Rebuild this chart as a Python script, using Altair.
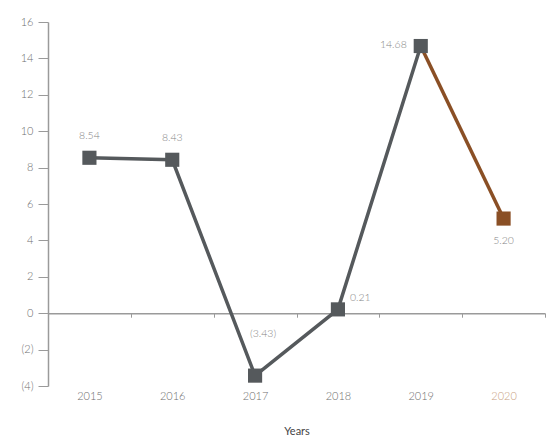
import altair as alt
import pandas as pd

# Annual growth figures (%) by year
years = ["2015", "2016", "2017", "2018", "2019", "2020"]
values = [8.54, 8.43, -3.43, 0.21, 14.68, 5.20]
labels = ["8.54", "8.43", "(3.43)", "0.21", "14.68", "5.20"]

GREY = "#55595c"
BROWN = "#8a4f25"
TEXT = "#858585"

Y_MIN, Y_MAX = -4, 16
W, H = 497, 364

df = pd.DataFrame({"year": years, "value": values, "label": labels})
df["status"] = ["actual"] * 5 + ["latest"]

# Line segments: actual years in grey, last step in brown
seg = pd.concat([
    df.iloc[0:5].assign(segment="actual"),
    df.iloc[4:6].assign(segment="latest"),
])

x_scale = alt.Scale(type="band", paddingInner=0, paddingOuter=0, domain=years)
y_scale = alt.Scale(domain=[Y_MIN, Y_MAX], nice=False, zero=False)
color_scale = alt.Scale(domain=["actual", "latest"], range=[GREY, BROWN])

# The x axis line sits on the zero value; its labels hang at the bottom
zero_lift = H * (0 - Y_MIN) / (Y_MAX - Y_MIN)

x_axis = alt.Axis(
    title="Years",
    orient="bottom",
    offset=-zero_lift,
    domainColor="#9a9a9a",
    domainWidth=1.5,
    tickColor="#9a9a9a",
    tickSize=4,
    tickBand="extent",
    labelAngle=0,
    labelPadding=zero_lift,
    labelFont="Lato",
    labelFontSize=11,
    labelFontWeight=300,
    labelColor={"condition": {"test": "datum.value == '2020'", "value": "#c9a283"}, "value": "#6f6f6f"},
    titleFont="Lato",
    titleFontSize=11,
    titleFontWeight="normal",
    titleColor="#444444",
    titlePadding=24,
    grid=False,
)

y_axis = alt.Axis(
    title=None,
    values=list(range(Y_MIN, Y_MAX + 1, 2)),
    labelExpr="datum.value < 0 ? '(' + (-datum.value) + ')' : datum.value",
    labelOverlap=False,
    domainColor="#9a9a9a",
    domainWidth=1.5,
    tickColor="#9a9a9a",
    tickSize=10,
    labelPadding=5,
    labelFont="Lato",
    labelFontSize=11,
    labelFontWeight=300,
    labelColor="#6f6f6f",
    grid=False,
)

x_enc = alt.X("year:O", scale=x_scale, axis=x_axis)
y_enc = alt.Y("value:Q", scale=y_scale, axis=y_axis)

lines = alt.Chart(seg).mark_line(strokeWidth=3.5).encode(
    x=x_enc,
    y=y_enc,
    color=alt.Color("segment:N", scale=color_scale, legend=None),
    detail="segment:N",
)

points = alt.Chart(df).mark_point(shape="square", filled=True, size=200, opacity=1).encode(
    x=x_enc,
    y=y_enc,
    color=alt.Color("status:N", scale=color_scale, legend=None),
)


def value_labels(sel, **kw):
    return alt.Chart(df[df["year"].isin(sel)]).mark_text(
        font="Lato", fontSize=10.5, fontWeight=300, color=TEXT, baseline="middle", **kw
    ).encode(
        x=x_enc,
        y=y_enc,
        text="label:N",
    )


above = value_labels(["2015", "2016"], align="center", dy=-22)
below = value_labels(["2020"], align="center", dy=22)
left = value_labels(["2019"], align="right", dx=-14, dy=-1)
right = value_labels(["2018"], align="left", dx=12, dy=-11)
dip = value_labels(["2017"], align="center", dx=8, dy=-42)

chart = (
    alt.layer(lines, points, above, below, left, right, dip)
    .properties(
        width=W,
        height=H,
        autosize=alt.AutoSizeParams(type="none"),
        padding={"left": 48, "top": 22, "right": 1, "bottom": 53},
    )
    .configure_view(stroke=None)
)

chart.save("out.html", embed_options={"renderer": "svg", "actions": False})
